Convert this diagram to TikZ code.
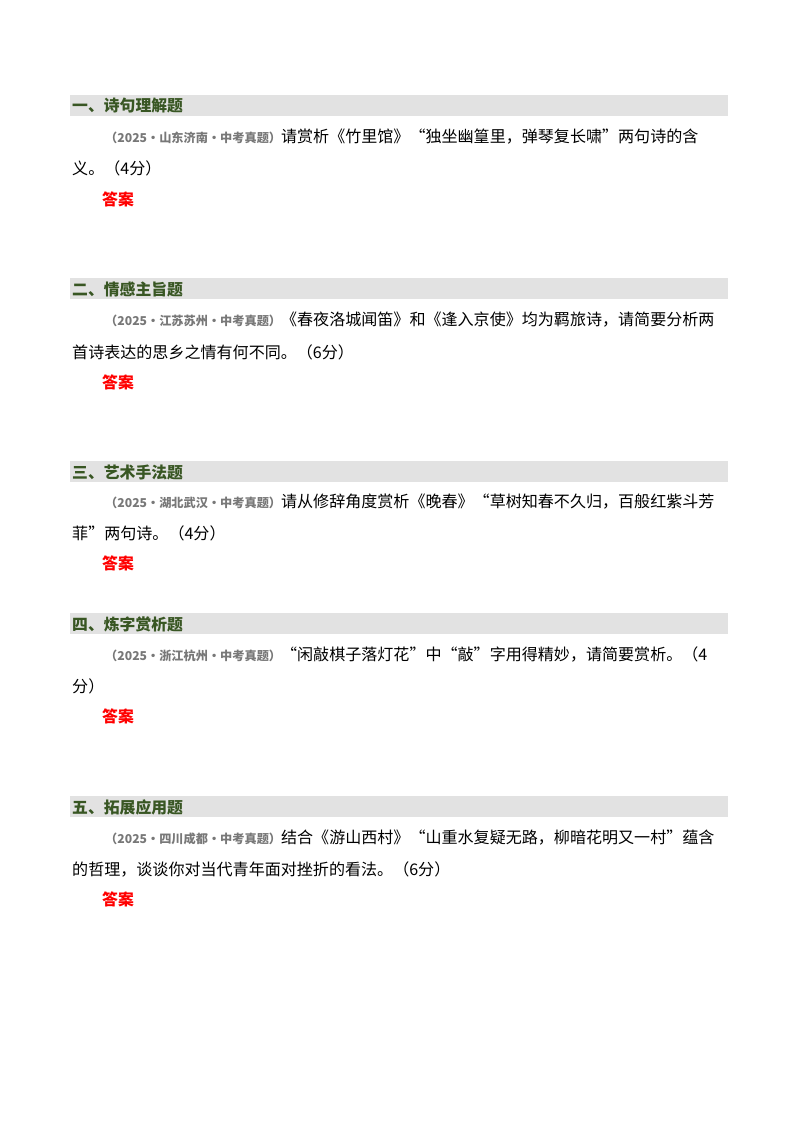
\documentclass[tikz,border=0pt]{standalone}
\usepackage{fontspec}
\newfontfamily\cjk{Noto Sans CJK SC}
\definecolor{bandgray}{RGB}{226,226,226}
\definecolor{headgreen}{RGB}{56,86,35}
\definecolor{srcgray}{RGB}{120,120,120}
\newcommand{\srclabel}[1]{\textcolor{srcgray}{\bfseries\fontsize{10.4}{11}\selectfont（#1）}}
\begin{document}
\begin{tikzpicture}[x=0.03cm,y=-0.03cm,%
  % common options for the gray heading bands:
  band/.style = {fill=bandgray, draw=none},
  head/.style = {anchor=west, inner sep=0, text=headgreen, font=\cjk\bfseries\fontsize{13.5}{14}\selectfont},
  line/.style = {anchor=west, inner sep=0, font=\cjk\fontsize{13.7}{14}\selectfont},
  answer/.style = {anchor=west, inner sep=0, text=red, font=\cjk\bfseries\fontsize{13.5}{14}\selectfont}]
\useasboundingbox[fill=white] (0,0) rectangle (800,1132);
% section one
\fill[band] (70,95) rectangle (728,116);
\node[head] (H1) at (72,106) {一、诗句理解题};
\node[line] (Q1a) at (105,137) {\srclabel{2025·山东济南·中考真题}请赏析《竹里馆》“独坐幽篁里，弹琴复长啸”两句诗的含};
\node[line] (Q1b) at (72,168) {义。（4分）};
\node[answer] (A1) at (102,199) {答案};
% section two
\fill[band] (70,278) rectangle (728,299);
\node[head] (H2) at (72,289) {二、情感主旨题};
\node[line] (Q2a) at (105,320) {\srclabel{2025·江苏苏州·中考真题}《春夜洛城闻笛》和《逢入京使》均为羁旅诗，请简要分析两};
\node[line] (Q2b) at (72,352) {首诗表达的思乡之情有何不同。（6分）};
\node[answer] (A2) at (102,382) {答案};
% section three
\fill[band] (70,461) rectangle (728,482);
\node[head] (H3) at (72,472) {三、艺术手法题};
\node[line] (Q3a) at (105,502) {\srclabel{2025·湖北武汉·中考真题}请从修辞角度赏析《晚春》“草树知春不久归，百般红紫斗芳};
\node[line] (Q3b) at (72,533) {菲”两句诗。（4分）};
\node[answer] (A3) at (102,563) {答案};
% section four
\fill[band] (70,613) rectangle (728,634);
\node[head] (H4) at (72,624) {四、炼字赏析题};
\node[line] (Q4a) at (105,654) {\srclabel{2025·浙江杭州·中考真题}“闲敲棋子落灯花”中“敲”字用得精妙，请简要赏析。（4};
\node[line] (Q4b) at (72,686) {分）};
\node[answer] (A4) at (102,716) {答案};
% section five
\fill[band] (70,796) rectangle (728,817);
\node[head] (H5) at (72,807) {五、拓展应用题};
\node[line] (Q5a) at (105,838) {\srclabel{2025·四川成都·中考真题}结合《游山西村》“山重水复疑无路，柳暗花明又一村”蕴含};
\node[line] (Q5b) at (72,869) {的哲理，谈谈你对当代青年面对挫折的看法。（6分）};
\node[answer] (A5) at (102,899) {答案};
\end{tikzpicture}
\end{document}
